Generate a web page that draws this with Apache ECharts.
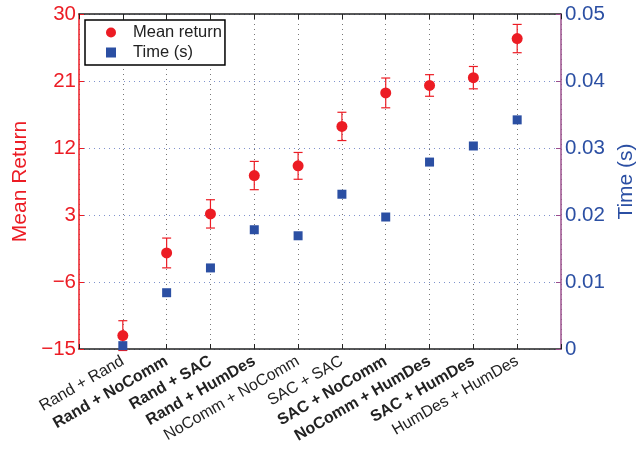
<!DOCTYPE html>
<html>
<head>
<meta charset="utf-8">
<script src="https://cdn.jsdelivr.net/npm/echarts@6/dist/echarts.min.js"></script>
<style>
html, body { margin: 0; padding: 0; background: #fff; }
#main { width: 642px; height: 449px; }
</style>
</head>
<body>
<div id="main"></div>
<script>
// categories on the x axis (bold ones drawn in bold)
var categories = ['Rand + Rand', 'Rand + NoComm', 'Rand + SAC', 'Rand + HumDes', 'NoComm + NoComm',
  'SAC + SAC', 'SAC + NoComm', 'NoComm + HumDes', 'SAC + HumDes', 'HumDes + HumDes'];
var boldCats = [false, true, true, true, false, false, true, true, true, false];
var meanReturn = [-13.2, -2.1, 3.15, 8.3, 9.6, 14.9, 19.4, 20.4, 21.45, 26.7];
var meanErr = [2.0, 2.0, 1.9, 1.9, 1.8, 1.9, 2.0, 1.45, 1.5, 1.9];
var timeS = [0.0005, 0.0084, 0.0121, 0.0178, 0.0169, 0.0231, 0.0197, 0.0279, 0.0303, 0.0342];
var leftTicks = [-15, 30, 9];
var rightTicks = [0, 0.05, 0.01];

var RED = '#ec1c24', BLUE = '#2b4fa3', FONT = 'Liberation Sans';

var meanData = meanReturn.map(function (v, i) { return [i + 1, v]; });
var timeData = timeS.map(function (v, i) { return [i + 1, v]; });
var errData = meanReturn.map(function (v, i) { return [i + 1, v - meanErr[i], v + meanErr[i]]; });

var chart = echarts.init(document.getElementById('main'));
var option = {
  animation: false,
  textStyle: { fontFamily: FONT },
  grid: { left: 79, right: 81, top: 14, bottom: 100, containLabel: false, outerBoundsMode: 'none' },
  legend: {
    left: 85, top: 20, orient: 'vertical',
    data: ['Mean return', 'Time (s)'],
    backgroundColor: '#fff', borderColor: '#000', borderWidth: 1.5, borderRadius: 0,
    padding: [4, 3, 4, 21], itemWidth: 10, itemHeight: 10, itemGap: 3,
    textStyle: { fontSize: 16.5, color: '#222', fontFamily: FONT, padding: [0, 0, 0, 12] }
  },
  xAxis: [{
    type: 'value', min: 0, max: 11, interval: 1,
    axisLine: { onZero: false, lineStyle: { color: '#222', width: 1.5 } },
    axisTick: { inside: true, length: 5, lineStyle: { color: '#222' } },
    splitLine: { show: true, lineStyle: { type: [1, 4], color: '#777' } },
    axisLabel: {
      rotate: 30, margin: 11, fontSize: 16, color: '#222',
      formatter: function (v) {
        if (v < 1 || v > 10) return '';
        return (boldCats[v - 1] ? '{b|' : '{n|') + categories[v - 1] + '}';
      },
      rich: {
        b: { fontWeight: 'bold', fontSize: 16, color: '#222', fontFamily: FONT },
        n: { fontSize: 16, color: '#222', fontFamily: FONT }
      }
    }
  }, {
    type: 'value', position: 'top', min: 0, max: 11, interval: 1,
    axisLine: { onZero: false, lineStyle: { color: '#222', width: 1.5 } },
    axisTick: { inside: true, length: 5, lineStyle: { color: '#222' } },
    axisLabel: { show: false }, splitLine: { show: false }
  }],
  yAxis: [{
    type: 'value', min: leftTicks[0], max: leftTicks[1], interval: leftTicks[2],
    position: 'left',
    name: 'Mean Return', nameLocation: 'middle', nameGap: 43,
    nameTextStyle: { color: RED, fontSize: 21, fontFamily: FONT },
    axisLine: { show: true, onZero: false, lineStyle: { color: RED, width: 1.5 } },
    axisTick: { show: true, inside: true, length: 5, lineStyle: { color: RED } },
    axisLabel: { color: RED, fontSize: 20.5, margin: 3,
      formatter: function (v) { return String(v).replace('-', '\u2212'); } },
    splitLine: { show: true, lineStyle: { type: [1, 4], color: '#7f92cc' } }
  }, {
    type: 'value', min: rightTicks[0], max: rightTicks[1], interval: rightTicks[2],
    position: 'right',
    name: 'Time (s)', nameLocation: 'middle', nameGap: 47,
    nameTextStyle: { color: BLUE, fontSize: 21, fontFamily: FONT },
    axisLine: { show: true, onZero: false, lineStyle: { color: '#9b4f8e', width: 1.5 } },
    axisTick: { show: true, inside: true, length: 5, lineStyle: { color: '#9b4f8e' } },
    axisLabel: { color: BLUE, fontSize: 20.5, margin: 4,
      formatter: function (v) { return v === 0 ? '0' : v.toFixed(2); } },
    splitLine: { show: false }
  }],
  series: [{
    type: 'custom', name: 'err', xAxisIndex: 0, yAxisIndex: 0,
    data: errData, silent: true, z: 2,
    renderItem: function (params, api) {
      var lo = api.coord([api.value(0), api.value(1)]);
      var hi = api.coord([api.value(0), api.value(2)]);
      var cap = 4.5;
      var st = { stroke: RED, lineWidth: 1.2 };
      return {
        type: 'group', children: [
          { type: 'line', shape: { x1: lo[0], y1: lo[1], x2: hi[0], y2: hi[1] }, style: st },
          { type: 'line', shape: { x1: lo[0] - cap, y1: lo[1], x2: lo[0] + cap, y2: lo[1] }, style: st },
          { type: 'line', shape: { x1: hi[0] - cap, y1: hi[1], x2: hi[0] + cap, y2: hi[1] }, style: st }
        ]
      };
    }
  }, {
    type: 'scatter', name: 'Mean return', xAxisIndex: 0, yAxisIndex: 0,
    data: meanData, symbol: 'circle', symbolSize: 11, z: 3,
    itemStyle: { color: RED, opacity: 1 }
  }, {
    type: 'scatter', name: 'Time (s)', xAxisIndex: 0, yAxisIndex: 1,
    data: timeData, symbol: 'rect', symbolSize: 9, z: 4,
    itemStyle: { color: BLUE, opacity: 1 }
  }]
};
chart.setOption(option);
</script>
</body>
</html>
